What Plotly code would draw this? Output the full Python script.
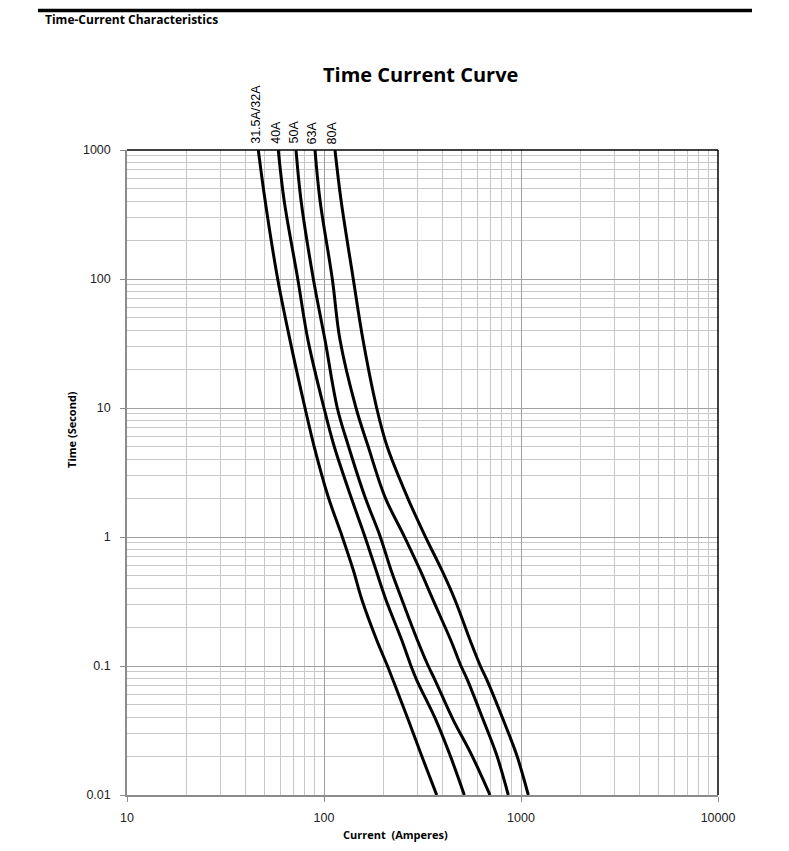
import math
import plotly.graph_objects as go

# Time points (seconds) shared by all curves
time_s = [1000, 410, 100, 33.6, 10, 5.07, 2.04, 1.02, 0.555, 0.325, 0.159, 0.1, 0.0778, 0.0381, 0.0204, 0.01]

# Currents (A) for each fuse rating at the time points above
i_31_5A = [46.4, 50.2, 58.2, 67.2, 80.1, 89.0, 105.1, 123.4, 140.8, 155.9, 185.1, 210.0, 224.0, 268, 312, 373.4]
i_40A = [58.6, 62.7, 73.6, 82.9, 100, 112.5, 137.1, 160.9, 183.6, 206.4, 248, 276.5, 295.5, 370.0, 436.1, 515.5]
i_50A = [72.1, 76.4, 88.3, 101.2, 116.8, 133.0, 161.5, 192.4, 218.8, 248.9, 297.6, 338.3, 366, 453.3, 562, 696]
i_63A = [90.0, 95.4, 110.2, 120.6, 145.4, 167.3, 204, 254.8, 307.2, 357.6, 439.6, 496, 535, 643.6, 752.7, 862]
i_80A = [113.7, 122, 140.8, 157.8, 185.1, 208.8, 264.8, 325.6, 395.8, 462.4, 551, 622, 672, 813.3, 951, 1089]

labels = ["31.5A/32A", "40A", "50A", "63A", "80A"]
series = [i_31_5A, i_40A, i_50A, i_63A, i_80A]

x_ticks = [10, 100, 1000, 10000]
x_tick_text = ["10", "100", "1000", "10000"]
y_ticks = [0.01, 0.1, 1, 10, 100, 1000]
y_tick_text = ["0.01", "0.1", "1", "10", "100", "1000"]

x_minor = [m * d for d in [10, 100, 1000] for m in range(2, 10)]
y_minor = [m * d for d in [0.01, 0.1, 1, 10, 100] for m in range(2, 10)]

fig = go.Figure()
for lab, cur in zip(labels, series):
    fig.add_trace(go.Scatter(x=cur, y=time_s, mode="lines", name=lab,
                             line=dict(color="black", width=3, shape="spline", smoothing=1.0),
                             showlegend=False, hoverinfo="x+y+name"))

tick_font = dict(family="Liberation Sans, Arial, sans-serif", size=12.5, color="#222")

fig.update_layout(
    width=789, height=851,
    margin=dict(l=119, r=79, t=142, b=64),
    paper_bgcolor="white", plot_bgcolor="white",
    xaxis=dict(type="log", range=[1, 4], tickvals=x_ticks, ticktext=x_tick_text,
               showgrid=True, gridcolor="#a0a0a0", gridwidth=1,
               minor=dict(tickvals=x_minor, showgrid=True, gridcolor="#c8c8c8", gridwidth=1, ticks=""),
               showline=True, linecolor="#8c8c8c", linewidth=1.5,
               ticks="outside", ticklen=5, tickcolor="#8c8c8c", ticklabelstandoff=5,
               tickfont=tick_font, zeroline=False),
    yaxis=dict(type="log", range=[-2, 3], tickvals=y_ticks, ticktext=y_tick_text,
               showgrid=True, gridcolor="#a0a0a0", gridwidth=1,
               minor=dict(tickvals=y_minor, showgrid=True, gridcolor="#c8c8c8", gridwidth=1, ticks=""),
               showline=True, linecolor="#8c8c8c", linewidth=1.5,
               ticks="outside", ticklen=5, tickcolor="#8c8c8c", ticklabelstandoff=7,
               tickfont=tick_font, zeroline=False),
)

# plot-area border top and right (black)
fig.add_shape(type="line", xref="paper", yref="paper", x0=0, x1=1, y0=1, y1=1,
              line=dict(color="black", width=1.5), layer="above")
fig.add_shape(type="line", xref="paper", yref="paper", x0=1, x1=1, y0=0, y1=1,
              line=dict(color="black", width=1.5), layer="above")

# header rule
fig.add_shape(type="line", xref="paper", yref="paper", x0=-0.1506, x1=1.0575, y0=1.2163, y1=1.2163,
              line=dict(color="black", width=3.5))

anns = []
anns.append(dict(text="<b>Time-Current Characteristics</b>", xref="paper", yref="paper",
                 x=-0.1421, y=1.2025, xanchor="left", yanchor="middle", showarrow=False,
                 font=dict(family="Open Sans, sans-serif", size=12, color="black")))
anns.append(dict(text="<b>Time Current Curve</b>", xref="paper", yref="paper",
                 x=0.4958, y=1.1163, xanchor="center", yanchor="middle", showarrow=False,
                 font=dict(family="Open Sans, sans-serif", size=20, color="black")))
anns.append(dict(text="<b>Current  (Amperes)</b>", xref="paper", yref="paper",
                 x=0.4535, y=-0.0605, xanchor="center", yanchor="middle", showarrow=False,
                 font=dict(family="Open Sans, sans-serif", size=11, color="black")))
anns.append(dict(text="<b>Time (Second)</b>", xref="paper", yref="paper", textangle=-90,
                 x=-0.093, y=0.566, xanchor="center", yanchor="middle", showarrow=False,
                 font=dict(family="Open Sans, sans-serif", size=11, color="black")))
for lab, cur in zip(labels, series):
    anns.append(dict(text=lab, xref="x", yref="paper", x=math.log10(cur[0]), y=1,
                     xanchor="center", yanchor="bottom", yshift=4, xshift=-3, textangle=-90,
                     showarrow=False,
                     font=dict(family="Liberation Sans, Arial, sans-serif", size=12.5, color="black")))
fig.update_layout(annotations=anns)

fig.write_html("out.html")
